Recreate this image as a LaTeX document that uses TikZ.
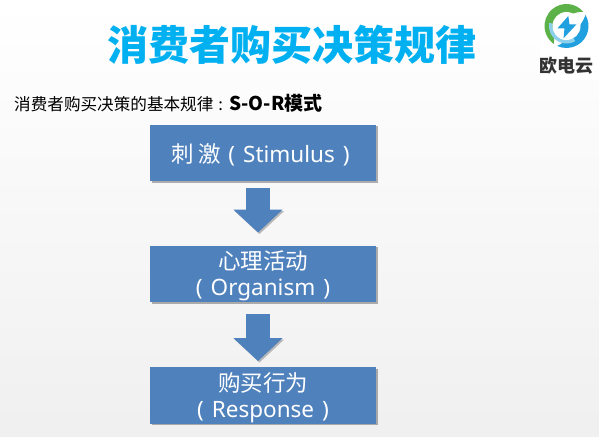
\documentclass[tikz,border=0pt]{standalone}
\usepackage{fontspec}
\usepackage{xcolor}
\usetikzlibrary{arrows.meta,calc,positioning,shadows}
\setmainfont{Noto Sans}
\newfontfamily\cjkfont{Noto Sans CJK SC}
\newfontfamily\latinfont{Noto Sans}
\definecolor{boxblue}{RGB}{79,129,189}
\definecolor{titleblue}{RGB}{0,176,240}
\definecolor{logogreen}{RGB}{92,178,72}
\definecolor{logoblue}{RGB}{32,160,222}
\definecolor{logopale}{RGB}{140,208,236}
\newcommand{\boxlatin}[1]{{\latinfont\fontsize{22.5}{26}\selectfont(\hspace{8pt}#1\hspace{8pt})}}
\newcommand{\toppad}{\rule{0pt}{23pt}}
\tikzset{
  flowbox/.style={fill=boxblue,minimum width=226pt,minimum height=56.5pt,inner sep=0pt,
    text=white,align=center,font=\cjkfont\fontsize{22.5}{26}\selectfont,
    drop shadow={shadow xshift=1.5pt,shadow yshift=-1.5pt,fill=black,opacity=.3}},
  flowarrow/.style={line width=24pt,boxblue,-{Triangle[length=23pt,width=48pt]},
    preaction={draw=black!28,transform canvas={shift={(1.5pt,-1.5pt)}}}},
}
\begin{document}
\begin{tikzpicture}[x=1pt,y=-1pt]
\useasboundingbox (0,0) rectangle (599,436);
\shade[top color=white,bottom color=black!6] (0,0) rectangle (599,436);
\node[font=\cjkfont\bfseries\fontsize{41}{46}\selectfont,text=titleblue,inner sep=0pt] (title) at (291.5,45) {消费者购买决策规律};
\node[anchor=west,inner sep=0pt,font=\cjkfont\fontsize{16.6}{20}\selectfont] (sub) at (14,103) {消费者购买决策的基本规律\hspace{5pt}:\hspace{6pt}{\bfseries\fontsize{19}{20}\selectfont S-O-R模式}};
% flow
\node[flowbox] (stim) at (263,153) {\toppad 刺 激\hspace{7pt}\boxlatin{Stimulus}\hspace{5pt}};
\node[flowbox] (org) at (263,274) {\toppad 心理活动\\\boxlatin{Organism}};
\node[flowbox] (resp) at (263,395.5) {\toppad 购买行为\\\boxlatin{Response}};
\draw[flowarrow,shorten <=7pt,shorten >=13pt] ([xshift=-5pt]stim.south)--([xshift=-5pt]org.north);
\draw[flowarrow,shorten <=12pt,shorten >=6pt] ([xshift=-5pt]org.south)--([xshift=-5pt]resp.north);
% logo
\fill[white] (540,0) rectangle (599,80);
\begin{scope}[shift={(566.5,26)},y=1pt]
\fill[logogreen] (40:22) arc[start angle=40,end angle=235,radius=22] .. controls (200:14) and (105:15) .. (40:22);
\fill[logoblue] (30:22) arc[start angle=30,end angle=-115,radius=22] .. controls (-95:17) and (-5:15) .. (30:22);
\fill[logopale] (-60:17.5) arc[start angle=-60,end angle=-190,radius=17.5] -- (-190:14) arc[start angle=-190,end angle=-60,radius=14] -- cycle;
\fill[white] (0,0) circle (14);
\fill[logoblue] (1.8,10)--(-9,-2.3)--(-2,-2.3)--(-3,-12.3)--(10,1.7)--(3,1.7)--cycle;
\end{scope}
\node[font=\cjkfont\bfseries\fontsize{18}{20}\selectfont,text=black!80,inner sep=0pt] (logotext) at (566.5,66) {欧电云};
\end{tikzpicture}
\end{document}
